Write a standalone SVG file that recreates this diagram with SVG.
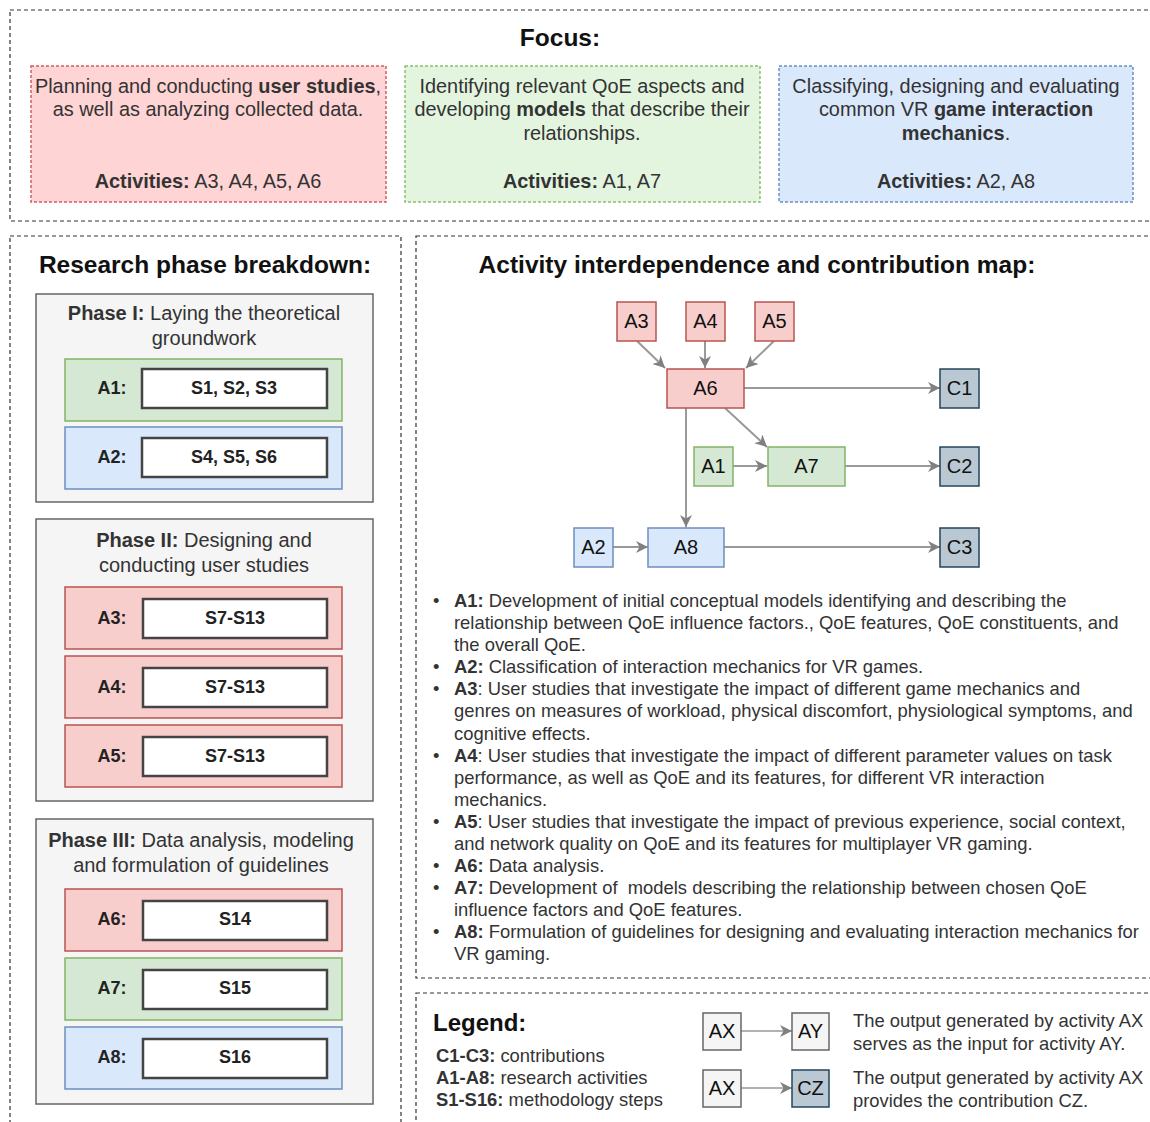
<svg xmlns="http://www.w3.org/2000/svg" width="1150" height="1122" viewBox="0 0 1150 1122">
<style>
text{font-family:"Liberation Sans",Arial,sans-serif;fill:#333}
.b{font-weight:bold}
.h{font-size:24.5px;font-weight:bold;fill:#111;text-anchor:middle}
.cont{fill:none;stroke:#333;stroke-width:1.2;stroke-dasharray:4 3}
.f{font-size:19.9px;text-anchor:middle}
.phase{fill:#f5f5f5;stroke:#666;stroke-width:1.5}
.red{fill:#f8cecc;stroke:#b85450;stroke-width:1.5}
.green{fill:#d5e8d4;stroke:#82b366;stroke-width:1.5}
.blue{fill:#dae8fc;stroke:#6c8ebf;stroke-width:1.5}
.cz{fill:#bac8d3;stroke:#23445d;stroke-width:1.5}
.gray{fill:#f5f5f5;stroke:#666;stroke-width:1.5}
.wb{fill:#fff;stroke:#444;stroke-width:2.5}
.pt{font-size:20px;text-anchor:middle;fill:#333}
.lab{font-size:18px;font-weight:bold;fill:#222;text-anchor:middle}
.st{font-size:18px;font-weight:bold;fill:#222;text-anchor:middle}
.n{font-size:20px;text-anchor:middle;fill:#111}
.e{fill:none;stroke:#999;stroke-width:2;marker-end:url(#ah)}
.li{font-size:18.4px;fill:#333}
.lg{font-size:18.4px;fill:#333}
</style>
<defs>
<marker id="ah" markerUnits="userSpaceOnUse" markerWidth="14" markerHeight="12" refX="12" refY="6" orient="auto">
<path d="M0,0 L12,6 L0,12 L3.5,6 Z" fill="#808080"/>
</marker>
</defs>

<g id="focus">
<rect class="cont" x="10" y="10" width="1150" height="211"/>
<text class="h" x="560" y="46">Focus:</text>
<g id="focus-red">
<rect x="31" y="66" width="355" height="136" fill="#ffd4d4" stroke="#d06060" stroke-width="1.5" stroke-dasharray="3 2"/>
<text class="f" x="208" y="93">Planning and conducting <tspan class="b">user studies</tspan>,</text>
<text class="f" x="208" y="116">as well as analyzing collected data.</text>
<text class="f" x="208" y="188"><tspan class="b">Activities:</tspan> A3, A4, A5, A6</text>
</g>
<g id="focus-green">
<rect x="405" y="66" width="355" height="136" fill="#e3f5df" stroke="#8cc070" stroke-width="1.5" stroke-dasharray="3 2"/>
<text class="f" x="582" y="93">Identifying relevant QoE aspects and</text>
<text class="f" x="582" y="116">developing <tspan class="b">models</tspan> that describe their</text>
<text class="f" x="582" y="140">relationships.</text>
<text class="f" x="582" y="188"><tspan class="b">Activities:</tspan> A1, A7</text>
</g>
<g id="focus-blue">
<rect x="779" y="66" width="354" height="136" fill="#dae8fc" stroke="#6c8ebf" stroke-width="1.5" stroke-dasharray="3 2"/>
<text class="f" x="956" y="93">Classifying, designing and evaluating</text>
<text class="f" x="956" y="116">common VR <tspan class="b">game interaction</tspan></text>
<text class="f" x="956" y="140"><tspan class="b">mechanics</tspan>.</text>
<text class="f" x="956" y="188"><tspan class="b">Activities:</tspan> A2, A8</text>
</g>
</g>

<g id="breakdown">
<rect class="cont" x="10" y="236" width="391" height="900"/>
<text class="h" x="205" y="273">Research phase breakdown:</text>

<g id="phase1">
<rect class="phase" x="36" y="294" width="337" height="208"/>
<text class="pt" x="204" y="320"><tspan class="b">Phase I:</tspan> Laying the theoretical</text>
<text class="pt" x="204" y="345">groundwork</text>
<g id="p-a1"><rect class="green" x="65" y="359" width="277" height="62"/><text class="lab" x="112" y="394">A1:</text><rect class="wb" x="142" y="369" width="185" height="39"/><text class="st" x="234" y="394">S1, S2, S3</text></g>
<g id="p-a2"><rect class="blue" x="65" y="427" width="277" height="62"/><text class="lab" x="112" y="463">A2:</text><rect class="wb" x="142" y="438" width="185" height="39"/><text class="st" x="234" y="463">S4, S5, S6</text></g>
</g>

<g id="phase2">
<rect class="phase" x="36" y="519" width="337" height="282"/>
<text class="pt" x="204" y="547"><tspan class="b">Phase II:</tspan> Designing and</text>
<text class="pt" x="204" y="572">conducting user studies</text>
<g id="p-a3"><rect class="red" x="65" y="587" width="277" height="62"/><text class="lab" x="112" y="624">A3:</text><rect class="wb" x="143" y="599" width="184" height="39"/><text class="st" x="235" y="624">S7-S13</text></g>
<g id="p-a4"><rect class="red" x="65" y="656" width="277" height="62"/><text class="lab" x="112" y="693">A4:</text><rect class="wb" x="143" y="668" width="184" height="39"/><text class="st" x="235" y="693">S7-S13</text></g>
<g id="p-a5"><rect class="red" x="65" y="725" width="277" height="62"/><text class="lab" x="112" y="762">A5:</text><rect class="wb" x="143" y="737" width="184" height="39"/><text class="st" x="235" y="762">S7-S13</text></g>
</g>

<g id="phase3">
<rect class="phase" x="36" y="819" width="337" height="285"/>
<text class="pt" x="201" y="847"><tspan class="b">Phase III:</tspan> Data analysis, modeling</text>
<text class="pt" x="201" y="872">and formulation of guidelines</text>
<g id="p-a6"><rect class="red" x="65" y="889" width="277" height="62"/><text class="lab" x="112" y="925">A6:</text><rect class="wb" x="143" y="901" width="184" height="39"/><text class="st" x="235" y="925">S14</text></g>
<g id="p-a7"><rect class="green" x="65" y="958" width="277" height="62"/><text class="lab" x="112" y="994">A7:</text><rect class="wb" x="143" y="970" width="184" height="39"/><text class="st" x="235" y="994">S15</text></g>
<g id="p-a8"><rect class="blue" x="65" y="1027" width="277" height="62"/><text class="lab" x="112" y="1063">A8:</text><rect class="wb" x="143" y="1039" width="184" height="39"/><text class="st" x="235" y="1063">S16</text></g>
</g>
</g>

<g id="map">
<rect class="cont" x="416" y="236" width="750" height="742"/>
<text class="h" x="757" y="273">Activity interdependence and contribution map:</text>

<g id="connectors">
<line class="e" x1="637" y1="341" x2="665" y2="368"/>
<line class="e" x1="705" y1="341" x2="705" y2="368"/>
<line class="e" x1="774" y1="341" x2="746" y2="368"/>
<line class="e" x1="744" y1="388" x2="940" y2="388"/>
<line class="e" x1="686" y1="408" x2="686" y2="527"/>
<line class="e" x1="725" y1="408" x2="767" y2="447"/>
<line class="e" x1="733" y1="466" x2="767" y2="466"/>
<line class="e" x1="845" y1="466" x2="940" y2="466"/>
<line class="e" x1="613" y1="547" x2="648" y2="547"/>
<line class="e" x1="724" y1="547" x2="940" y2="547"/>
</g>

<g id="n-a3"><rect class="red" x="617" y="302" width="39" height="39"/><text class="n" x="636.5" y="328">A3</text></g>
<g id="n-a4"><rect class="red" x="686" y="302" width="39" height="39"/><text class="n" x="705.5" y="328">A4</text></g>
<g id="n-a5"><rect class="red" x="755" y="302" width="39" height="39"/><text class="n" x="774.5" y="328">A5</text></g>
<g id="n-a6"><rect class="red" x="667" y="369" width="77" height="39"/><text class="n" x="705.5" y="395">A6</text></g>
<g id="n-c1"><rect class="cz" x="940" y="369" width="39" height="39"/><text class="n" x="959.5" y="395">C1</text></g>
<g id="n-a1"><rect class="green" x="694" y="447" width="39" height="39"/><text class="n" x="713.5" y="473">A1</text></g>
<g id="n-a7"><rect class="green" x="768" y="447" width="77" height="39"/><text class="n" x="806.5" y="473">A7</text></g>
<g id="n-c2"><rect class="cz" x="940" y="447" width="39" height="39"/><text class="n" x="959.5" y="473">C2</text></g>
<g id="n-a2"><rect class="blue" x="574" y="528" width="39" height="39"/><text class="n" x="593.5" y="554">A2</text></g>
<g id="n-a8"><rect class="blue" x="648" y="528" width="76" height="39"/><text class="n" x="686" y="554">A8</text></g>
<g id="n-c3"><rect class="cz" x="940" y="528" width="39" height="39"/><text class="n" x="959.5" y="554">C3</text></g>

<g id="descriptions">
<text class="li" x="433" y="607">•</text><text class="li" x="454" y="607"><tspan class="b">A1:</tspan> Development of initial conceptual models identifying and describing the</text>
<text class="li" x="454" y="629">relationship between QoE influence factors., QoE features, QoE constituents, and</text>
<text class="li" x="454" y="651">the overall QoE.</text>
<text class="li" x="433" y="673">•</text><text class="li" x="454" y="673"><tspan class="b">A2:</tspan> Classification of interaction mechanics for VR games.</text>
<text class="li" x="433" y="695">•</text><text class="li" x="454" y="695"><tspan class="b">A3</tspan>: User studies that investigate the impact of different game mechanics and</text>
<text class="li" x="454" y="717">genres on measures of workload, physical discomfort, physiological symptoms, and</text>
<text class="li" x="454" y="740">cognitive effects.</text>
<text class="li" x="433" y="762">•</text><text class="li" x="454" y="762"><tspan class="b">A4</tspan>: User studies that investigate the impact of different parameter values on task</text>
<text class="li" x="454" y="784">performance, as well as QoE and its features, for different VR interaction</text>
<text class="li" x="454" y="806">mechanics.</text>
<text class="li" x="433" y="828">•</text><text class="li" x="454" y="828"><tspan class="b">A5</tspan>: User studies that investigate the impact of previous experience, social context,</text>
<text class="li" x="454" y="850">and network quality on QoE and its features for multiplayer VR gaming.</text>
<text class="li" x="433" y="872">•</text><text class="li" x="454" y="872"><tspan class="b">A6:</tspan> Data analysis.</text>
<text class="li" x="433" y="894">•</text><text class="li" x="454" y="894" xml:space="preserve"><tspan class="b">A7:</tspan> Development of  models describing the relationship between chosen QoE</text>
<text class="li" x="454" y="916">influence factors and QoE features.</text>
<text class="li" x="433" y="938">•</text><text class="li" x="454" y="938"><tspan class="b">A8:</tspan> Formulation of guidelines for designing and evaluating interaction mechanics for</text>
<text class="li" x="454" y="960">VR gaming.</text>
</g>
</g>

<g id="legend">
<rect class="cont" x="416" y="993" width="750" height="150"/>
<text x="433" y="1031" style="font-size:24px;font-weight:bold;fill:#111">Legend:</text>
<text class="lg" x="436" y="1062"><tspan class="b">C1-C3:</tspan> contributions</text>
<text class="lg" x="436" y="1084"><tspan class="b">A1-A8:</tspan> research activities</text>
<text class="lg" x="436" y="1106"><tspan class="b">S1-S16:</tspan> methodology steps</text>
<g id="leg-connectors">
<line class="e" x1="741" y1="1031" x2="792" y2="1031" style="stroke-width:1.5"/>
<line class="e" x1="741" y1="1088" x2="792" y2="1088" style="stroke-width:1.5"/>
</g>
<g id="leg-ax1"><rect class="gray" x="703" y="1013" width="38" height="37"/><text class="n" x="722" y="1038">AX</text></g>
<g id="leg-ay"><rect class="gray" x="792" y="1013" width="37" height="37"/><text class="n" x="810.5" y="1038">AY</text></g>
<g id="leg-ax2"><rect class="gray" x="703" y="1070" width="38" height="37"/><text class="n" x="722" y="1095">AX</text></g>
<g id="leg-cz"><rect class="cz" x="792" y="1070" width="37" height="37"/><text class="n" x="810.5" y="1095">CZ</text></g>
<text class="lg" x="853" y="1027">The output generated by activity AX</text>
<text class="lg" x="853" y="1050">serves as the input for activity AY.</text>
<text class="lg" x="853" y="1084">The output generated by activity AX</text>
<text class="lg" x="853" y="1107">provides the contribution CZ.</text>
</g>
</svg>
